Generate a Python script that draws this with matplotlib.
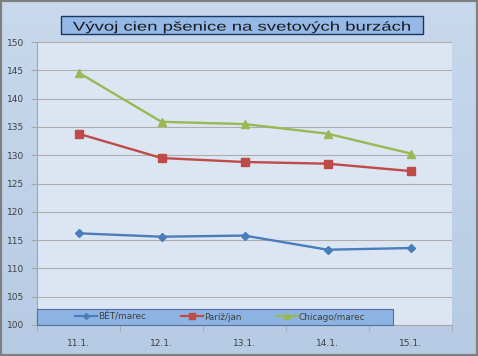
import numpy as np
import matplotlib
matplotlib.use("Agg")
import matplotlib.pyplot as plt
from matplotlib.patches import Rectangle, PathPatch
from matplotlib.lines import Line2D
from matplotlib.textpath import TextPath
from matplotlib.font_manager import FontProperties
from matplotlib.transforms import Affine2D, IdentityTransform

categories = ["11.1.", "12.1.", "13.1.", "14.1.", "15.1."]
bet = [116.2, 115.6, 115.8, 113.3, 113.6]
pariz = [133.8, 129.5, 128.8, 128.5, 127.2]
chicago = [144.6, 135.9, 135.5, 133.8, 130.3]
series_names = ["BÉT/marec", "Paríž/jan", "Chicago/marec"]
y_ticks = [100, 105, 110, 115, 120, 125, 130, 135, 140, 145, 150]
title = "Vývoj cien pšenice na svetových burzách"

W, H = 478, 356
fig = plt.figure(figsize=(W / 100, H / 100), dpi=100)

# background gradient
bg = fig.add_axes([0, 0, 1, 1], zorder=-10)
grad = np.linspace(0, 1, 256).reshape(-1, 1)
c1 = np.array([0xc8, 0xd9, 0xed]) / 255
c2 = np.array([0xb6, 0xcb, 0xe4]) / 255
img = c1[None, None, :] * (1 - grad[:, :, None]) + c2[None, None, :] * grad[:, :, None]
bg.imshow(img, aspect="auto", extent=[0, 1, 0, 1])
bg.set_xlim(0, 1); bg.set_ylim(0, 1)
bg.axis("off")
bg.add_patch(Rectangle((0, 0), 1, 1, transform=bg.transAxes, fill=False,
                       edgecolor="#7f7f7f", linewidth=3))

def fx(px): return px / W
def fy(py): return 1 - py / H

left, right, top, bottom = 37, 452, 42, 325
ax = fig.add_axes([fx(left), fy(bottom), fx(right - left), (bottom - top) / H])
ax.set_facecolor("#dce6f2")

x = np.arange(len(categories))
colors = ["#4a7ebb", "#be4b48", "#98b954"]
markers = ["D", "s", "^"]
msizes = [4, 6, 6]
data = [bet, pariz, chicago]
for vals, c, m, ms, name in zip(data, colors, markers, msizes, series_names):
    ax.plot(x, vals, color=c, marker=m, markersize=ms, linewidth=1.7,
            markeredgecolor=c, label=name, zorder=3)

tick_font = dict(family="DejaVu Sans", size=6.5)
ax.set_xlim(-0.5, len(categories) - 0.5)
ax.set_ylim(100, 150)
ax.set_yticks(y_ticks)
ax.set_yticklabels([str(v) for v in y_ticks], color="#404040", fontdict=tick_font)
ax.yaxis.grid(True, color="#adadad", linewidth=0.8)
ax.set_axisbelow(True)
ax.set_xticks(x)
ax.set_xticklabels(categories, color="#404040", fontdict=tick_font)
ax.tick_params(axis="x", length=0, pad=10)
ax.set_xticks(np.arange(-0.5, len(categories)), minor=True)
ax.tick_params(axis="x", which="minor", length=4, color="#a6a6a6", direction="out")
ax.tick_params(axis="y", length=4, color="#a6a6a6", direction="out", pad=5)
for s in ["top", "right"]:
    ax.spines[s].set_visible(False)
for s in ["left", "bottom"]:
    ax.spines[s].set_color("#a6a6a6")

# legend box
lx0, lx1, ly0, ly1 = 37, 393, 309, 325
fig.patches.append(Rectangle((fx(lx0), fy(ly1)), fx(lx1 - lx0), (ly1 - ly0) / H,
                             transform=fig.transFigure, facecolor="#8db3e2",
                             edgecolor="#4f6f9f", linewidth=0.8, zorder=5))
leg_x = [75, 181, 276]
for c, m, ms, name, lx in zip(colors, markers, msizes, series_names, leg_x):
    hdl = Line2D([0], [0], color=c, marker=m, markersize=ms * 0.75, linewidth=1.6)
    leg = fig.legend([hdl], [name], loc="center left",
                     bbox_to_anchor=(fx(lx), fy(317)), frameon=False,
                     prop=dict(family="DejaVu Sans", size=6.4),
                     handlelength=2.5, handletextpad=0.05,
                     borderpad=0, borderaxespad=0, labelcolor="#404040")
    leg.set_zorder(6)

# title box
tx0, tx1, ty0, ty1 = 61, 423, 16, 34
fig.patches.append(Rectangle((fx(tx0), fy(ty1)), fx(tx1 - tx0), (ty1 - ty0) / H,
                             transform=fig.transFigure, facecolor="#95b8e6",
                             edgecolor="#17375e", linewidth=1.0, zorder=5))

# horizontally stretched title (as in the reference)
fp = FontProperties(family="Liberation Sans")
tp = TextPath((0, 0), title, size=100, prop=fp)
ext = tp.get_extents()
cap = TextPath((0, 0), "V", size=100, prop=fp).get_extents().height
t_left, t_right = 73, 410
cap_px = 8.8
sy = cap_px / cap
sx = (t_right - t_left) / ext.width
base_y = H - 30.6  # baseline in display pixels (y up)
tr = Affine2D().translate(-ext.x0, 0).scale(sx, sy).translate(t_left, base_y)
fig.patches.append(PathPatch(tr.transform_path(tp), transform=IdentityTransform(),
                             facecolor="#1a1a1a", edgecolor="none", zorder=6))

fig.savefig("out.png", dpi=100)
